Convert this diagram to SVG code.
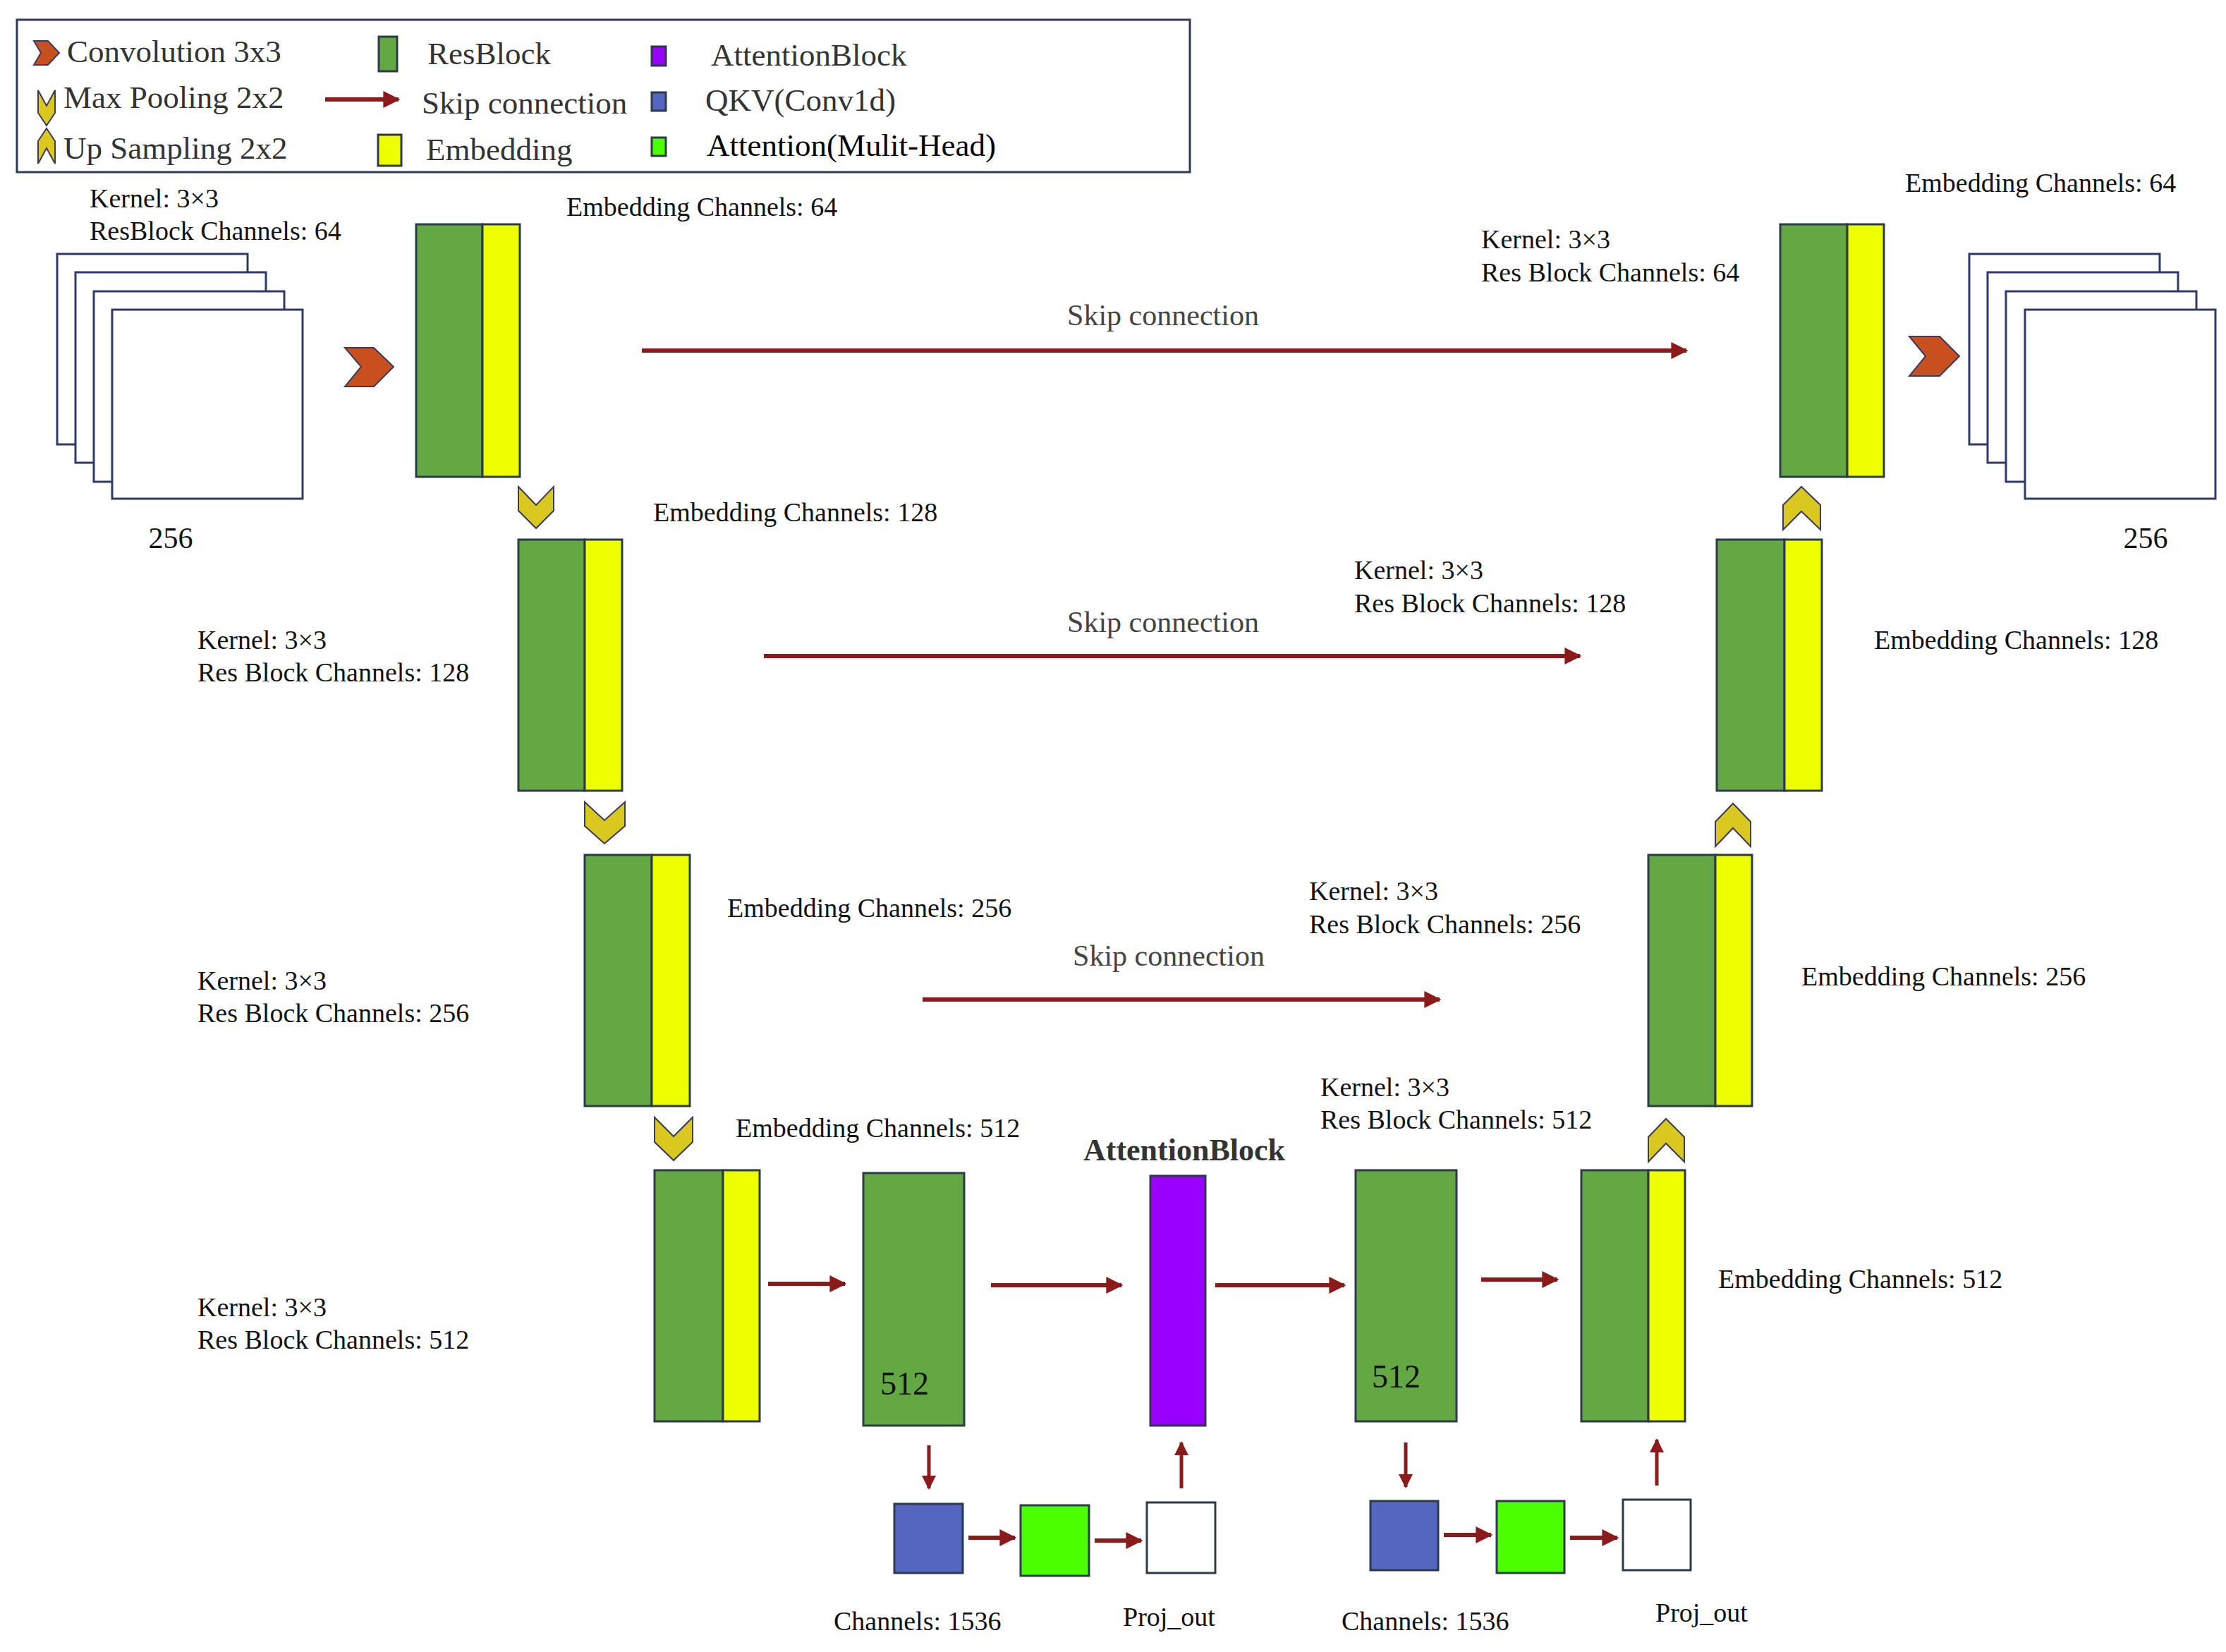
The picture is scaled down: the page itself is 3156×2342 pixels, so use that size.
<svg xmlns="http://www.w3.org/2000/svg" width="3156" height="2342" viewBox="0 0 3156 2342">
<defs>
<marker id="ah" viewBox="0 0 10 10" refX="9" refY="5" markerWidth="4" markerHeight="4" orient="auto" markerUnits="strokeWidth"><path d="M0,0 L10,5 L0,10 z" fill="#8b1a1a"/></marker>
<style>
text{font-family:"Liberation Serif","Times New Roman",serif;fill:#111}
.lbl{font-size:38px}
.leg{font-size:45px;fill:#333}
.skip{font-size:42px;fill:#444}
.num{font-size:46px}
.g{fill:#64a843;stroke:#2d3a4a;stroke-width:3}
.y{fill:#eeff00;stroke:#2d3a4a;stroke-width:3}
.p{fill:#9900ff;stroke:#2d3a4a;stroke-width:3}
.b{fill:#5566c0;stroke:#2d3a4a;stroke-width:3}
.a{fill:#4cff00;stroke:#2d3a4a;stroke-width:3}
.w{fill:#fff;stroke:#2d3a4a;stroke-width:3}
.sq{fill:#fff;stroke:#2d3a6a;stroke-width:3}
.cv{fill:#c8501e;stroke:#3a3a5a;stroke-width:2}
.mp{fill:#d9c820;stroke:#3a3a5a;stroke-width:2}
.ar{stroke:#8b1a1a;stroke-width:6;fill:none;marker-end:url(#ah)}
</style>
</defs>
<g id="legend">
<rect x="24" y="28" width="1663" height="216" fill="#fff" stroke="#2d3a5a" stroke-width="3"/>
<polygon class="cv" points="48,58 68,58 84,75 68,92 48,92 58,75"/>
<text class="leg" x="95" y="88">Convolution 3x3</text>
<polygon class="mp" points="54,128 66,150 78,128 78,160 66,178 54,160"/>
<text class="leg" x="90" y="153">Max Pooling 2x2</text>
<polygon class="mp" points="54,232 66,210 78,232 78,200 66,182 54,200"/>
<text class="leg" x="90" y="225">Up Sampling 2x2</text>
<rect class="g" x="537" y="52" width="26" height="49"/>
<text class="leg" x="606" y="91">ResBlock</text>
<line class="ar" x1="461" y1="141" x2="565" y2="141"/>
<text class="leg" x="598" y="161">Skip connection</text>
<rect class="y" x="536" y="191" width="33" height="44"/>
<text class="leg" x="604" y="227">Embedding</text>
<rect class="p" x="924" y="66" width="20" height="27"/>
<text class="leg" x="1008" y="93">AttentionBlock</text>
<rect class="b" x="924" y="131" width="20" height="26"/>
<text class="leg" x="1000" y="157">QKV(Conv1d)</text>
<rect class="a" x="924" y="195" width="20" height="26"/>
<text class="leg" x="1002" y="221" style="fill:#000">Attention(Mulit-Head)</text>
</g>
<g id="input">
<rect class="sq" x="81" y="360" width="270" height="270"/>
<rect class="sq" x="107" y="386" width="270" height="270"/>
<rect class="sq" x="133" y="413" width="270" height="270"/>
<rect class="sq" x="159" y="439" width="270" height="268"/>
<text class="lbl" x="242" y="777" text-anchor="middle" style="font-size:42px">256</text>
<text class="lbl" x="127" y="294">Kernel: 3×3</text>
<text class="lbl" x="127" y="340">ResBlock Channels: 64</text>
<polygon class="cv" points="489,493 530,493 558,520 530,548 489,548 512,520"/>
</g>
<g id="enc1">
<rect class="g" x="590" y="318" width="94" height="358"/><rect class="y" x="684" y="318" width="53" height="358"/>
<text class="lbl" x="803" y="306">Embedding Channels: 64</text>
<polygon class="mp" points="735,690 760,716 785,690 785,724 760,749 735,724"/>
</g>
<g id="enc2">
<text class="lbl" x="926" y="739">Embedding Channels: 128</text>
<rect class="g" x="735" y="765" width="94" height="356"/><rect class="y" x="829" y="765" width="53" height="356"/>
<text class="lbl" x="280" y="920">Kernel: 3×3</text>
<text class="lbl" x="280" y="966">Res Block Channels: 128</text>
<polygon class="mp" points="829,1137 857,1163 886,1137 886,1171 857,1196 829,1171"/>
</g>
<g id="enc3">
<rect class="g" x="829" y="1212" width="95" height="356"/><rect class="y" x="924" y="1212" width="54" height="356"/>
<text class="lbl" x="1031" y="1300">Embedding Channels: 256</text>
<text class="lbl" x="280" y="1403">Kernel: 3×3</text>
<text class="lbl" x="280" y="1449">Res Block Channels: 256</text>
<polygon class="mp" points="928,1584 955,1611 982,1584 982,1619 955,1645 928,1619"/>
</g>
<g id="enc4">
<text class="lbl" x="1043" y="1612">Embedding Channels: 512</text>
<rect class="g" x="928" y="1659" width="97" height="356"/><rect class="y" x="1025" y="1659" width="52" height="356"/>
<text class="lbl" x="280" y="1866">Kernel: 3×3</text>
<text class="lbl" x="280" y="1912">Res Block Channels: 512</text>
</g>
<g id="mid1">
<rect class="g" x="1224" y="1663" width="143" height="358"/>
<text class="num" x="1248" y="1977">512</text>
</g>
<g id="attn">
<text x="1679" y="1645" text-anchor="middle" style="font-size:44px;font-weight:bold;fill:#333">AttentionBlock</text>
<rect class="p" x="1631" y="1667" width="78" height="354"/>
</g>
<g id="mid2">
<rect class="g" x="1922" y="1659" width="143" height="356"/>
<text class="num" x="1945" y="1967">512</text>
</g>
<g id="dec4">
<rect class="g" x="2242" y="1659" width="95" height="356"/><rect class="y" x="2337" y="1659" width="52" height="356"/>
<polygon class="mp" points="2337,1647 2362,1621 2388,1647 2388,1612 2362,1586 2337,1612"/>
<text class="lbl" x="1872" y="1554">Kernel: 3×3</text>
<text class="lbl" x="1872" y="1600">Res Block Channels: 512</text>
<text class="lbl" x="2436" y="1826">Embedding Channels: 512</text>
</g>
<g id="qkv1">
<rect class="b" x="1268" y="2132" width="97" height="98"/>
<rect class="a" x="1447" y="2134" width="97" height="100"/>
<rect class="w" x="1626" y="2130" width="97" height="100"/>
<text class="lbl" x="1182" y="2311">Channels: 1536</text>
<text class="lbl" x="1592" y="2305">Proj_out</text>
</g>
<g id="qkv2">
<rect class="b" x="1943" y="2128" width="96" height="98"/>
<rect class="a" x="2122" y="2128" width="96" height="102"/>
<rect class="w" x="2301" y="2126" width="96" height="100"/>
<text class="lbl" x="1902" y="2311">Channels: 1536</text>
<text class="lbl" x="2347" y="2299">Proj_out</text>
</g>
<g id="dec3">
<rect class="g" x="2337" y="1212" width="95" height="356"/><rect class="y" x="2432" y="1212" width="52" height="356"/>
<polygon class="mp" points="2432,1200 2457,1174 2482,1200 2482,1165 2457,1139 2432,1165"/>
<text class="lbl" x="2554" y="1397">Embedding Channels: 256</text>
<text class="lbl" x="1856" y="1276">Kernel: 3×3</text>
<text class="lbl" x="1856" y="1323">Res Block Channels: 256</text>
</g>
<g id="dec2">
<rect class="g" x="2434" y="765" width="96" height="356"/><rect class="y" x="2530" y="765" width="53" height="356"/>
<polygon class="mp" points="2528,751 2554,725 2581,751 2581,716 2554,690 2528,716"/>
<text class="lbl" x="2657" y="920">Embedding Channels: 128</text>
<text class="lbl" x="1920" y="821">Kernel: 3×3</text>
<text class="lbl" x="1920" y="868">Res Block Channels: 128</text>
</g>
<g id="dec1">
<rect class="g" x="2524" y="318" width="95" height="358"/><rect class="y" x="2619" y="318" width="52" height="358"/>
<text class="lbl" x="2701" y="272">Embedding Channels: 64</text>
<text class="lbl" x="2100" y="352">Kernel: 3×3</text>
<text class="lbl" x="2100" y="399">Res Block Channels: 64</text>
</g>
<g id="output">
<polygon class="cv" points="2707,477 2750,477 2778,505 2750,533 2707,533 2730,505"/>
<rect class="sq" x="2792" y="360" width="270" height="270"/>
<rect class="sq" x="2818" y="386" width="270" height="270"/>
<rect class="sq" x="2844" y="413" width="270" height="270"/>
<rect class="sq" x="2871" y="439" width="270" height="268"/>
<text class="lbl" x="3042" y="777" text-anchor="middle" style="font-size:42px">256</text>
</g>
<g id="connectors">
<line class="ar" x1="910" y1="497" x2="2391" y2="497"/>
<text class="skip" x="1649" y="461" text-anchor="middle">Skip connection</text>
<line class="ar" x1="1083" y1="930" x2="2240" y2="930"/>
<text class="skip" x="1649" y="896" text-anchor="middle">Skip connection</text>
<line class="ar" x1="1308" y1="1417" x2="2041" y2="1417"/>
<text class="skip" x="1657" y="1369" text-anchor="middle">Skip connection</text>
<line class="ar" x1="1089" y1="1820" x2="1198" y2="1820"/>
<line class="ar" x1="1405" y1="1822" x2="1590" y2="1822"/>
<line class="ar" x1="1723" y1="1822" x2="1906" y2="1822"/>
<line class="ar" x1="2100" y1="1814" x2="2208" y2="1814"/>
<line class="ar" x1="1317" y1="2049" x2="1317" y2="2110" style="stroke-width:5"/>
<line class="ar" x1="1373" y1="2180" x2="1439" y2="2180"/>
<line class="ar" x1="1552" y1="2184" x2="1618" y2="2184"/>
<line class="ar" x1="1675" y1="2110" x2="1675" y2="2045" style="stroke-width:5"/>
<line class="ar" x1="1993" y1="2045" x2="1993" y2="2108" style="stroke-width:5"/>
<line class="ar" x1="2047" y1="2176" x2="2114" y2="2176"/>
<line class="ar" x1="2226" y1="2180" x2="2293" y2="2180"/>
<line class="ar" x1="2349" y1="2106" x2="2349" y2="2041" style="stroke-width:5"/>
</g>
</svg>
